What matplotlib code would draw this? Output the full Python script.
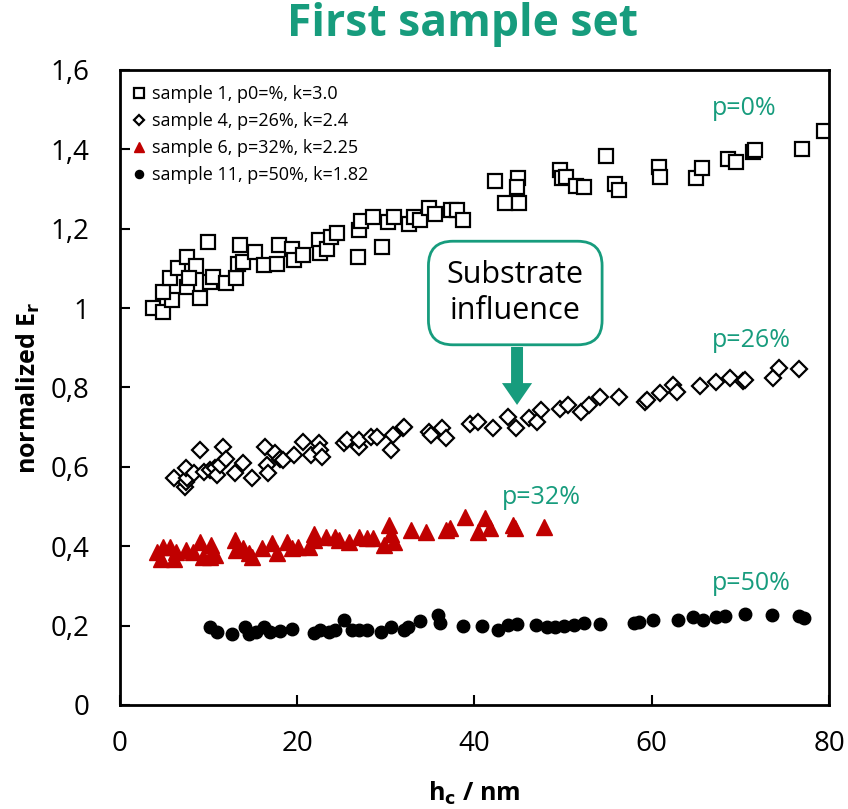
import matplotlib.pyplot as plt
from matplotlib.patches import FancyArrow

plt.rcParams['font.family'] = ['Open Sans', 'DejaVu Sans']

green = '#179c7d'
red = '#c00000'

# sample 1, p=0%
h1 = [3.7, 4.8, 5.9, 4.8, 5.6, 6.5, 7.6, 8.6, 9.9, 7.6, 9.0, 7.8, 10.1, 10.5, 12.0, 13.1,
      13.3, 13.9, 13.5, 15.2, 16.2, 17.9, 17.7, 19.4, 19.6, 20.7, 22.4, 22.6, 23.4, 23.8,
      24.5, 26.8, 27.0, 27.2, 28.5, 29.6, 30.2, 30.9, 32.6, 33.2, 33.8, 34.9, 35.5, 37.4,
      38.0, 38.7, 42.3, 43.4, 45.0, 44.9, 44.8, 49.7, 49.9, 50.3, 51.4, 52.4, 54.8, 55.8,
      56.3, 60.8, 60.9, 65.0, 65.7, 68.6, 69.5, 71.4, 71.7, 76.9, 79.4]
e1 = [1.0, 0.99, 1.02, 1.04, 1.075, 1.10, 1.13, 1.105, 1.167, 1.054, 1.025, 1.075, 1.066,
      1.078, 1.062, 1.075, 1.112, 1.117, 1.159, 1.142, 1.108, 1.159, 1.112, 1.15, 1.12,
      1.133, 1.171, 1.139, 1.15, 1.18, 1.19, 1.129, 1.196, 1.22, 1.23, 1.154, 1.217, 1.23,
      1.213, 1.23, 1.222, 1.251, 1.238, 1.247, 1.247, 1.222, 1.321, 1.264, 1.265, 1.327,
      1.306, 1.348, 1.327, 1.331, 1.308, 1.304, 1.383, 1.312, 1.297, 1.356, 1.331, 1.329,
      1.354, 1.375, 1.369, 1.394, 1.398, 1.40, 1.447]

# sample 4, p=26%
h4 = [6.1, 7.3, 7.5, 7.6, 7.5, 8.4, 9.0, 9.5, 10.1, 10.7, 10.9, 11.25, 11.6, 12.0, 13.0,
      13.9, 14.9, 16.4, 16.6, 16.7, 17.5, 18.1, 18.4, 19.6, 20.7, 21.5, 22.4, 22.6, 22.8,
      25.3, 25.6, 27.0, 27.0, 28.3, 29.0, 30.6, 30.8, 31.9, 32.1, 34.9, 35.1, 36.3, 36.8,
      39.5, 40.4, 42.1, 43.75, 44.7, 46.1, 47.0, 47.5, 49.7, 50.6, 52.0, 52.9, 54.2, 56.3,
      59.2, 59.5, 60.9, 62.4, 62.8, 65.4, 67.3, 68.8, 70.3, 70.5, 73.7, 74.4, 76.6]
e4 = [0.573, 0.55, 0.562, 0.571, 0.596, 0.584, 0.642, 0.588, 0.592, 0.596, 0.579, 0.605,
      0.651, 0.621, 0.584, 0.609, 0.571, 0.651, 0.605, 0.584, 0.634, 0.621, 0.617, 0.63,
      0.663, 0.63, 0.659, 0.642, 0.626, 0.659, 0.667, 0.651, 0.667, 0.676, 0.676, 0.642,
      0.68, 0.697, 0.70, 0.688, 0.68, 0.697, 0.672, 0.709, 0.713, 0.699, 0.726, 0.697,
      0.722, 0.714, 0.743, 0.747, 0.756, 0.739, 0.756, 0.775, 0.776, 0.764, 0.768, 0.785,
      0.806, 0.789, 0.804, 0.814, 0.823, 0.817, 0.819, 0.823, 0.848, 0.846]

# sample 6, p=32%
h6 = [4.2, 4.8, 4.6, 5.6, 6.1, 6.3, 7.5, 8.2, 9.0, 9.35, 10.1, 10.3, 10.7, 13.0, 13.1,
      13.9, 14.5, 14.85, 16.0, 17.1, 17.7, 18.8, 19.4, 20.1, 21.3, 21.9, 21.9, 23.2, 24.3,
      24.7, 25.8, 27.0, 27.9, 28.5, 29.8, 30.4, 30.6, 30.9, 32.8, 34.5, 36.8, 37.2, 38.9,
      40.4, 41.2, 41.7, 44.4, 44.6, 47.8]
e6 = [0.386, 0.399, 0.369, 0.399, 0.369, 0.386, 0.39, 0.386, 0.411, 0.374, 0.374, 0.403,
      0.378, 0.416, 0.39, 0.395, 0.382, 0.374, 0.395, 0.407, 0.382, 0.411, 0.395, 0.399,
      0.399, 0.432, 0.416, 0.424, 0.424, 0.416, 0.411, 0.424, 0.42, 0.42, 0.403, 0.453,
      0.432, 0.411, 0.44, 0.437, 0.44, 0.445, 0.474, 0.437, 0.47, 0.445, 0.453, 0.445,
      0.449]

# sample 11, p=50%
h11 = [10.1, 10.9, 12.6, 14.1, 14.5, 15.4, 16.2, 16.9, 18.1, 19.4, 21.9, 22.6, 23.6,
       24.3, 25.3, 26.2, 27.0, 27.9, 29.4, 30.6, 32.1, 32.5, 33.8, 35.9, 36.1, 38.7, 40.8,
       42.7, 43.8, 44.8, 46.9, 48.2, 49.1, 50.1, 51.2, 52.4, 54.2, 58.0, 58.6, 60.1, 63.0,
       64.7, 65.8, 67.3, 68.3, 70.5, 73.6, 76.6, 77.2]
e11 = [0.196, 0.185, 0.18, 0.196, 0.18, 0.185, 0.196, 0.185, 0.187, 0.191, 0.182, 0.189,
       0.185, 0.189, 0.214, 0.189, 0.189, 0.189, 0.185, 0.197, 0.189, 0.197, 0.212, 0.227,
       0.206, 0.199, 0.199, 0.189, 0.202, 0.203, 0.202, 0.197, 0.197, 0.199, 0.202, 0.206,
       0.204, 0.206, 0.21, 0.214, 0.214, 0.222, 0.214, 0.222, 0.224, 0.229, 0.227, 0.224,
       0.22]

yticks = [0, 0.2, 0.4, 0.6, 0.8, 1.0, 1.2, 1.4, 1.6]
ylabels = ['0', '0,2', '0,4', '0,6', '0,8', '1', '1,2', '1,4', '1,6']
xticks = [0, 20, 40, 60, 80]

fig = plt.figure(figsize=(8.48, 8.09), dpi=100)
ax = fig.add_axes([0.1415, 0.1286, 0.8361, 0.7849])

ax.plot(h1, e1, 's', ms=10, mfc='white', mec='black', mew=1.6, ls='none',
        label='sample 1, p0=%, k=3.0')
ax.plot(h4, e4, 'D', ms=8.5, mfc='white', mec='black', mew=1.6, ls='none',
        label='sample 4, p=26%, k=2.4')
ax.plot(h6, e6, '^', ms=11, color=red, ls='none', label='sample 6, p=32%, k=2.25')
ax.plot(h11, e11, 'o', ms=9, color='black', ls='none', label='sample 11, p=50%, k=1.82')

ax.set_xlim(0, 80)
ax.set_ylim(0, 1.6)
ax.set_xticks(xticks)
ax.set_yticks(yticks)
ax.set_yticklabels(ylabels)
ax.tick_params(direction='in', length=7, width=1.5, labelsize=20)
ax.tick_params(axis='x', pad=18)
ax.tick_params(axis='y', pad=22)
for s in ax.spines.values():
    s.set_linewidth(2)

ax.set_xlabel(r'h$_\mathbf{c}$ / nm', fontsize=18, fontweight='bold', labelpad=16)
ax.set_ylabel(r'normalized E$_\mathbf{r}$', fontsize=18, fontweight='bold', labelpad=6)
fig.suptitle('First sample set', x=0.545, y=0.998, fontsize=32, fontweight='bold', color=green)

leg = ax.legend(loc='upper left', frameon=False, fontsize=13, markerscale=0.65,
                handlelength=0.4, handletextpad=0.5, labelspacing=0.5,
                borderaxespad=0.45)

ax.text(66.8, 1.503, 'p=0%', color=green, fontsize=18, va='center')
ax.text(66.8, 0.919, 'p=26%', color=green, fontsize=18, va='center')
ax.text(43.1, 0.524, 'p=32%', color=green, fontsize=18, va='center')
ax.text(66.8, 0.307, 'p=50%', color=green, fontsize=18, va='center')

ax.text(44.6, 1.038, 'Substrate\ninfluence', fontsize=22, ha='center', va='center',
        linespacing=1.3,
        bbox=dict(boxstyle='round,pad=0.6,rounding_size=0.8', fc='white', ec=green, lw=2))
ax.add_patch(FancyArrow(44.8, 0.902, 0, -0.146, width=1.35, head_width=3.4,
                        head_length=0.055, length_includes_head=True,
                        color=green, lw=0))

fig.savefig('out.png', dpi=100)
